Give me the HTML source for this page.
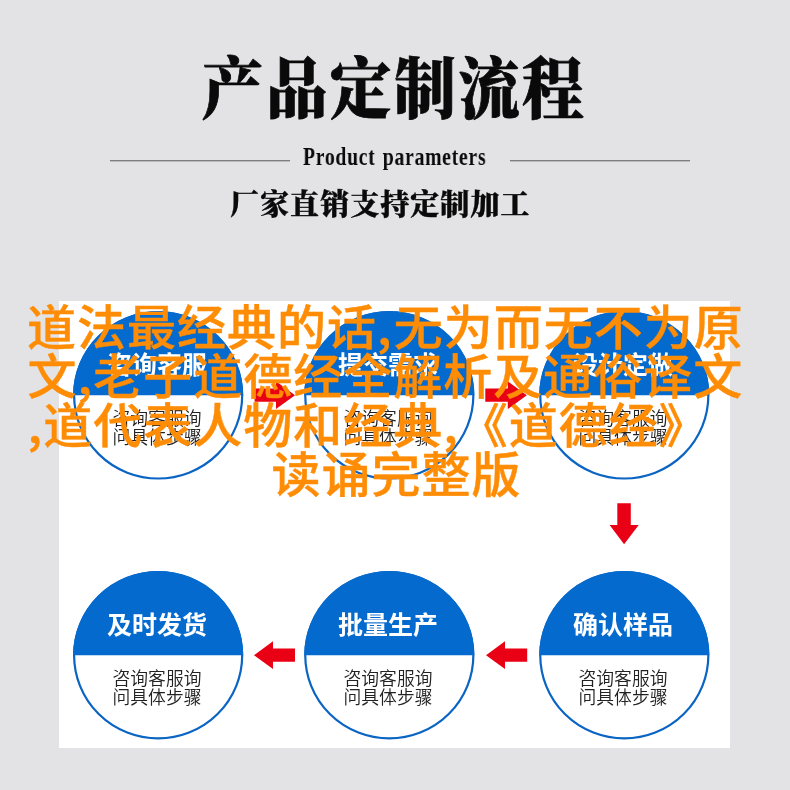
<!DOCTYPE html>
<html lang="zh-CN">
<head>
<meta charset="utf-8">
<title>产品定制流程</title>
<style>
html,body{margin:0;padding:0;}
body{width:790px;height:790px;position:relative;overflow:hidden;background:#e3e3e5;font-family:"Liberation Sans","Noto Sans CJK SC",sans-serif;}
.abs{position:absolute;}
.t,.d,#title,#en,#sub{will-change:transform;}
#title{left:201.7px;top:51.6px;font-family:"Liberation Serif","Noto Serif CJK SC",serif;font-weight:900;font-size:61.5px;line-height:70px;height:70px;color:#0a0a0a;-webkit-text-stroke:0.7px #0a0a0a;white-space:nowrap;letter-spacing:2.55px;transform:scaleY(1.095);transform-origin:0 0;}
#en{left:302.8px;top:142.4px;font-family:"Liberation Serif",serif;font-weight:bold;font-size:24.3px;line-height:30px;color:#0a0a0a;white-space:nowrap;letter-spacing:0.9px;word-spacing:2px;transform:scaleX(0.81);transform-origin:0 0;}
.hr{height:2px;background:linear-gradient(#7e7e7e 0,#7e7e7e 50%,#bcbcbd 50%,#bcbcbd 100%);top:160px;}
#sub{left:230.2px;top:184.6px;font-family:"Liberation Serif","Noto Serif CJK SC",serif;font-weight:900;font-size:29px;line-height:40px;color:#0a0a0a;-webkit-text-stroke:0.35px #0a0a0a;white-space:nowrap;letter-spacing:1.05px;}
#panel{left:58.7px;top:300.7px;width:671.5px;height:447px;background:#fff;}
.t{position:absolute;width:170px;height:30px;margin:0;text-align:center;color:#fff;font-weight:bold;font-size:25px;line-height:30px;white-space:nowrap;}
.d{position:absolute;width:170px;margin:0;text-align:center;color:#222;font-weight:350;font-size:17.8px;line-height:19.2px;white-space:nowrap;}
svg.ar{position:absolute;left:0;top:0;}
#ov i{font-style:normal;margin-right:0px;}
#ov div{position:absolute;transform:scaleY(0.963);transform-origin:0 0;white-space:nowrap;color:#ff8c05;font-size:49px;line-height:50px;height:50px;letter-spacing:1px;font-weight:500;-webkit-text-stroke:0.45px #ff8c05;font-family:"Noto Sans CJK SC","Liberation Sans",sans-serif;}
</style>
</head>
<body>
<div id="title" class="abs">产品定制流程</div>
<div class="abs hr" style="left:110px;width:180px;"></div>
<div id="en" class="abs">Product parameters</div>
<div class="abs hr" style="left:510px;width:180px;"></div>
<div id="sub" class="abs">厂家直销支持定制加工</div>
<div id="panel" class="abs"></div>
<svg class="ar" width="790" height="790" viewBox="0 0 790 790">
  <ellipse cx="158.15" cy="395.3" rx="84.05" ry="83.2" fill="#fff" stroke="#0a64c4" stroke-width="2.2"/>
  <path d="M73.10 395.3 A85.05 84.2 0 0 1 243.20 395.3 Z" fill="#046ace"/>
  <ellipse cx="389.3" cy="395.3" rx="84.05" ry="83.2" fill="#fff" stroke="#0a64c4" stroke-width="2.2"/>
  <path d="M304.25 395.3 A85.05 84.2 0 0 1 474.35 395.3 Z" fill="#046ace"/>
  <ellipse cx="624.3" cy="395.3" rx="84.05" ry="83.2" fill="#fff" stroke="#0a64c4" stroke-width="2.2"/>
  <path d="M539.25 395.3 A85.05 84.2 0 0 1 709.35 395.3 Z" fill="#046ace"/>
  <ellipse cx="158.15" cy="655.2" rx="84.05" ry="83.2" fill="#fff" stroke="#0a64c4" stroke-width="2.2"/>
  <path d="M73.10 655.2 A85.05 84.2 0 0 1 243.20 655.2 Z" fill="#046ace"/>
  <ellipse cx="389.3" cy="655.2" rx="84.05" ry="83.2" fill="#fff" stroke="#0a64c4" stroke-width="2.2"/>
  <path d="M304.25 655.2 A85.05 84.2 0 0 1 474.35 655.2 Z" fill="#046ace"/>
  <ellipse cx="624.3" cy="655.2" rx="84.05" ry="83.2" fill="#fff" stroke="#0a64c4" stroke-width="2.2"/>
  <path d="M539.25 655.2 A85.05 84.2 0 0 1 709.35 655.2 Z" fill="#046ace"/>
</svg>
<h3 class="t" style="left:71.85px;top:350.20px;">咨询客服</h3>
<p class="d" style="left:71.85px;top:409.80px;">咨询客服询<br>问具体步骤</p>
<h3 class="t" style="left:303.00px;top:350.20px;">提交需求</h3>
<p class="d" style="left:303.00px;top:409.80px;">咨询客服询<br>问具体步骤</p>
<h3 class="t" style="left:538.00px;top:350.20px;">设计定做</h3>
<p class="d" style="left:538.00px;top:409.80px;">咨询客服询<br>问具体步骤</p>
<h3 class="t" style="left:71.85px;top:610.10px;">及时发货</h3>
<p class="d" style="left:71.85px;top:669.70px;">咨询客服询<br>问具体步骤</p>
<h3 class="t" style="left:303.00px;top:610.10px;">批量生产</h3>
<p class="d" style="left:303.00px;top:669.70px;">咨询客服询<br>问具体步骤</p>
<h3 class="t" style="left:538.00px;top:610.10px;">确认样品</h3>
<p class="d" style="left:538.00px;top:669.70px;">咨询客服询<br>问具体步骤</p>


<svg class="ar" width="790" height="790" viewBox="0 0 790 790">
  <g fill="#ea0014">
    <path d="M254.6 388.6 H276 V381.3 L295 395.2 L276 409.1 V401.8 H254.6 Z"/>
    <path d="M485.3 388.6 H507.8 V381.3 L526.8 395.2 L507.8 409.1 V401.8 H485.3 Z"/>
    <path d="M617.3 503.2 H630.8 V525.1 H638.7 L624.1 544.3 L609.6 525.1 H617.3 Z"/>
    <path d="M295 648.6 H273 V641.3 L254 655.2 L273 669.1 V661.8 H295 Z"/>
    <path d="M527.2 648.6 H505 V641.3 L486 655.2 L505 669.1 V661.8 H527.2 Z"/>
  </g>
</svg>

<div id="ov">
<div style="left:27px;top:301px;">道法最经典的话<i style="margin-right:1px">,</i>无为而无不为原</div>
<div style="left:27.5px;top:349.8px;">文<i>,</i>老子道德经全解析及通俗译文</div>
<div style="left:27.6px;top:399.3px;"><i>,</i>道代表人物和经典<i>,</i>《道德经》</div>
<div style="left:271.5px;top:447.7px;">读诵完整版</div>
</div>
</body>
</html>
